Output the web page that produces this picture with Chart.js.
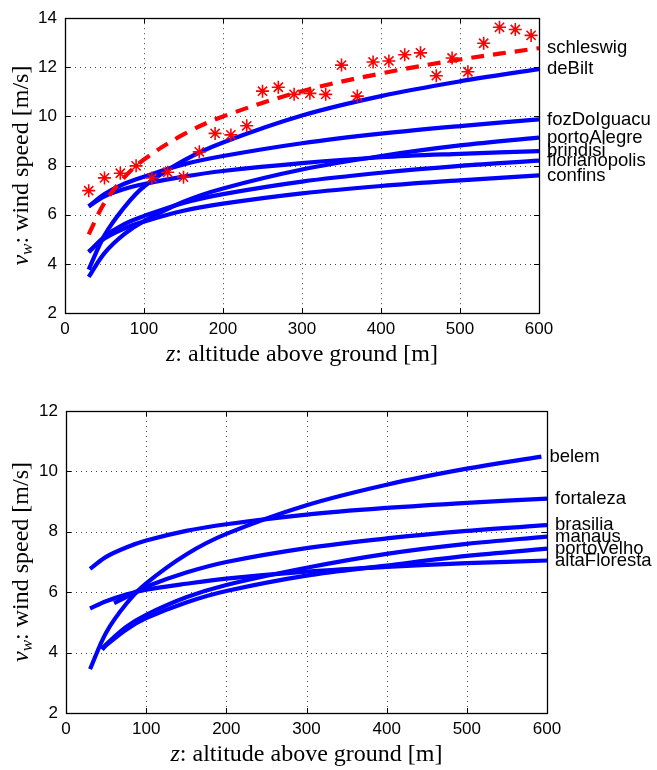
<!DOCTYPE html>
<html>
<head>
<meta charset="utf-8">
<script src="https://cdn.jsdelivr.net/npm/chart.js@4.4.1/dist/chart.umd.min.js"></script>
<style>
    html, body { margin: 0; padding: 0; background: #fff; }
    #wrap { position: relative; width: 657px; height: 770px; }
    .panel { position: absolute; left: 0; width: 657px; height: 385px; }
</style>
</head>
<body>
<div id="wrap">
    <div class="panel" style="top:0"><canvas id="top-chart" width="657" height="385"></canvas></div>
    <div class="panel" style="top:385px"><canvas id="bottom-chart" width="657" height="385"></canvas></div>
</div>

<script>
    // ---- top panel data (altitude z in m, wind speed in m/s) ----
    const zTop = [30, 50, 75, 100, 150, 200, 300, 400, 500, 600];
    const schleswig = [5.2, 6.49, 7.52, 8.25, 9.27, 10.0, 11.03, 11.75, 12.32, 12.78];
    const deBilt = [3.77, 5.16, 6.3, 7.15, 8.2, 8.94, 10.04, 10.83, 11.43, 11.93];
    const fozDoIguacu = [6.34, 6.84, 7.26, 7.55, 8.05, 8.39, 8.91, 9.3, 9.61, 9.88];
    const portoAlegre = [3.47, 4.44, 5.21, 5.74, 6.53, 7.07, 7.84, 8.39, 8.82, 9.14];
    const brindisi = [6.34, 6.75, 7.05, 7.25, 7.55, 7.78, 8.1, 8.34, 8.48, 8.59];
    const florianopolis = [4.47, 5.11, 5.62, 5.95, 6.48, 6.84, 7.35, 7.71, 7.99, 8.2];
    const confins = [4.5, 5.03, 5.44, 5.72, 6.16, 6.45, 6.87, 7.17, 7.4, 7.6];

    // measured schleswig points (asterisks)
    const zMeasured = [30, 50, 70, 90, 110, 130, 150, 170, 190, 210, 230, 250, 270, 290, 310,
                       330, 350, 370, 390, 410, 430, 450, 470, 490, 510, 530, 550, 570, 590];
    const schleswigMeasured = [6.98, 7.5, 7.69, 7.99, 7.5, 7.73, 7.53, 8.56, 9.31, 9.25, 9.62, 11.03, 11.19, 10.9, 10.94,
                               10.9, 12.09, 10.83, 12.22, 12.26, 12.51, 12.59, 11.66, 12.38, 11.82, 12.98, 13.63, 13.54, 13.3];

    // ---- bottom panel data ----
    const zBelem = [30, 50, 75, 100, 150, 200, 300, 400, 500, 593];
    const belem = [3.45, 4.66, 5.61, 6.29, 7.25, 7.93, 8.88, 9.56, 10.09, 10.49];
    const zFull = [30, 50, 75, 100, 150, 200, 300, 400, 500, 600];
    const fortaleza = [6.77, 7.17, 7.48, 7.71, 8.03, 8.25, 8.57, 8.79, 8.96, 9.1];
    const altaFloresta = [5.46, 5.7, 5.92, 6.08, 6.28, 6.45, 6.68, 6.84, 6.96, 7.05];
    const zBrasilia = [60, 75, 100, 150, 200, 300, 400, 500, 600];
    const brasilia = [5.64, 5.84, 6.18, 6.65, 7.0, 7.46, 7.78, 8.03, 8.22];
    const zLow = [45, 50, 75, 100, 150, 200, 300, 400, 500, 600];
    const manaus = [4.12, 4.27, 4.85, 5.25, 5.83, 6.24, 6.81, 7.27, 7.6, 7.84];
    const portoVelho = [4.1, 4.24, 4.76, 5.14, 5.66, 6.04, 6.55, 6.88, 7.2, 7.44];

    const yTicksTop = [2, 4, 6, 8, 10, 12, 14];
    const yTicksBottom = [2, 4, 6, 8, 10, 12];
    const xTicks = [0, 100, 200, 300, 400, 500, 600];

    const BLUE = '#0000ff';
    const RED = '#ff0000';
    const TICK_FONT = { family: "'Liberation Sans', Arial, sans-serif", size: 17 };

    function pts(zs, vs) {
        return zs.map((z, i) => ({ x: z, y: vs[i] }));
    }

    function blueLine(name, zs, vs) {
        return {
            label: name, data: pts(zs, vs),
            borderColor: BLUE, borderWidth: 4.2, pointRadius: 0,
            tension: 0.35, endLabel: true
        };
    }

    // font helper for axis titles (LaTeX look)
    function titleFont(p) {
        let size = p.sub ? 17 : 24;
        return (p.it ? 'italic ' : '') + size + "px 'Liberation Serif', 'DejaVu Serif', serif";
    }

    function drawRichText(ctx, parts, cx, cy, rotate) {
        ctx.save();
        ctx.translate(cx, cy);
        if (rotate) ctx.rotate(-Math.PI / 2);
        ctx.fillStyle = '#000';
        ctx.textBaseline = 'alphabetic';
        ctx.textAlign = 'left';
        let total = 0;
        parts.forEach(p => { ctx.font = titleFont(p); p.w = ctx.measureText(p.t).width; total += p.w; });
        let x = -total / 2;
        parts.forEach(p => {
            ctx.font = titleFont(p);
            ctx.fillText(p.t, x, p.sub ? 11 : 7);
            x += p.w;
        });
        ctx.restore();
    }

    // matlab-like frame: dotted grid, inward ticks, box, end labels, axis titles
    const matlabFrame = {
        id: 'matlabFrame',
        beforeDatasetsDraw(chart) {
            const { ctx, chartArea: a, scales: { x, y } } = chart;
            ctx.save();
            ctx.strokeStyle = '#444';
            ctx.lineWidth = 1;
            ctx.setLineDash([1, 4]);
            ctx.beginPath();
            x.ticks.forEach(t => {
                const px = Math.round(x.getPixelForValue(t.value)) + 0.5;
                ctx.moveTo(px, a.top); ctx.lineTo(px, a.bottom);
            });
            y.ticks.forEach(t => {
                const py = Math.round(y.getPixelForValue(t.value)) + 0.5;
                ctx.moveTo(a.left, py); ctx.lineTo(a.right, py);
            });
            ctx.stroke();
            ctx.restore();
        },
        afterDraw(chart) {
            const { ctx, chartArea: a, scales: { x, y } } = chart;
            ctx.save();
            ctx.strokeStyle = '#000';
            ctx.lineWidth = 1;
            ctx.beginPath();
            x.ticks.forEach(t => {
                const px = Math.round(x.getPixelForValue(t.value)) + 0.5;
                ctx.moveTo(px, a.bottom); ctx.lineTo(px, a.bottom - 5);
                ctx.moveTo(px, a.top); ctx.lineTo(px, a.top + 5);
            });
            y.ticks.forEach(t => {
                const py = Math.round(y.getPixelForValue(t.value)) + 0.5;
                ctx.moveTo(a.left, py); ctx.lineTo(a.left + 5, py);
                ctx.moveTo(a.right, py); ctx.lineTo(a.right - 5, py);
            });
            ctx.stroke();
            ctx.lineWidth = 1.3;
            ctx.strokeRect(Math.round(a.left) + 0.5, Math.round(a.top) + 0.5, Math.round(a.width), Math.round(a.height));

            // series names at the end of each curve
            ctx.fillStyle = '#000';
            ctx.font = "18.5px 'Liberation Sans', Arial, sans-serif";
            ctx.textBaseline = 'middle';
            ctx.textAlign = 'left';
            chart.data.datasets.forEach((ds, i) => {
                if (!ds.endLabel) return;
                const last = ds.data[ds.data.length - 1];
                ctx.fillText(ds.label, x.getPixelForValue(last.x) + 8, y.getPixelForValue(last.y));
            });

            // axis titles
            drawRichText(ctx, [{ t: 'z', it: true }, { t: ': altitude above ground [m]' }],
                (a.left + a.right) / 2, a.bottom + 41, false);
            drawRichText(ctx, [{ t: 'v', it: true }, { t: 'w', it: true, sub: true }, { t: ': wind speed [m/s]' }],
                21, (a.top + a.bottom) / 2, true);
            ctx.restore();
        }
    };

    function makeOptions(yMin, yMax, pad, yWidth, xHeight) {
        return {
            responsive: false,
            animation: false,
            layout: { padding: pad },
            plugins: { legend: { display: false }, tooltip: { enabled: false } },
            scales: {
                x: {
                    type: 'linear', min: 0, max: 600,
                    afterBuildTicks: s => { s.ticks = xTicks.map(v => ({ value: v })); },
                    afterFit: s => { s.height = xHeight; },
                    grid: { display: false, drawTicks: false },
                    border: { display: false },
                    ticks: { color: '#000', font: TICK_FONT, padding: 6, maxRotation: 0 }
                },
                y: {
                    type: 'linear', min: yMin, max: yMax,
                    afterBuildTicks: s => { s.ticks = (yMax === 14 ? yTicksTop : yTicksBottom).map(v => ({ value: v })); },
                    afterFit: s => { s.width = yWidth; },
                    grid: { display: false, drawTicks: false },
                    border: { display: false },
                    ticks: { color: '#000', font: TICK_FONT, padding: 8 }
                }
            }
        };
    }

    new Chart(document.getElementById('top-chart'), {
        type: 'line',
        data: {
            datasets: [
                {
                    label: 'schleswig data', data: pts(zMeasured, schleswigMeasured), showLine: false,
                    pointStyle: 'star', pointRadius: 6.5, borderColor: RED, borderWidth: 1.6, backgroundColor: RED
                },
                {
                    label: 'schleswig', data: pts(zTop, schleswig), borderColor: RED, borderWidth: 4.2,
                    borderDash: [13, 9], pointRadius: 0, tension: 0.35, endLabel: true
                },
                blueLine('deBilt', zTop, deBilt),
                blueLine('fozDoIguacu', zTop, fozDoIguacu),
                blueLine('portoAlegre', zTop, portoAlegre),
                blueLine('brindisi', zTop, brindisi),
                blueLine('florianopolis', zTop, florianopolis),
                blueLine('confins', zTop, confins)
            ]
        },
        options: makeOptions(2, 14, { top: 10, right: 118, left: 0, bottom: 0 }, 65, 72),
        plugins: [matlabFrame]
    });

    new Chart(document.getElementById('bottom-chart'), {
        type: 'line',
        data: {
            datasets: [
                blueLine('belem', zBelem, belem),
                blueLine('fortaleza', zFull, fortaleza),
                blueLine('brasilia', zBrasilia, brasilia),
                blueLine('manaus', zLow, manaus),
                blueLine('portoVelho', zLow, portoVelho),
                blueLine('altaFloresta', zFull, altaFloresta)
            ]
        },
        options: makeOptions(2, 12, { top: 26, right: 110, left: 0, bottom: 0 }, 66, 57),
        plugins: [matlabFrame]
    });
</script>
</body>
</html>
